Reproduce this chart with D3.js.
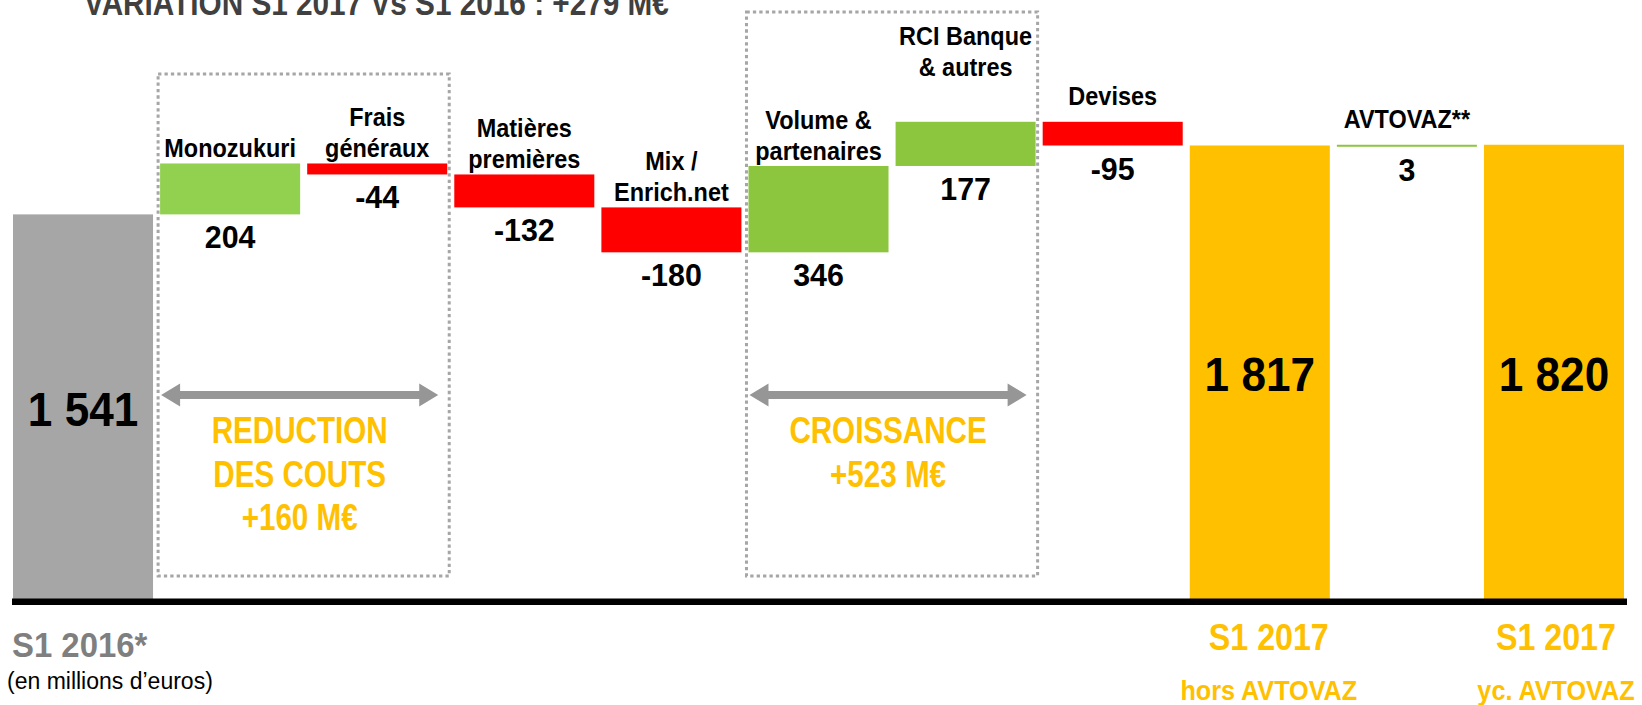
<!DOCTYPE html>
<html lang="fr">
<head>
<meta charset="UTF-8">
<title>Variation S1 2017 vs S1 2016</title>
<script src="https://d3js.org/d3.v7.min.js"></script>
<style>
    body { margin: 0; padding: 0; background: #fff; }
    svg { display: block; font-family: "Liberation Sans", Arial, sans-serif; }
</style>
</head>
<body>
<svg id="chart" width="1642" height="705"></svg>
<script>
// Données (en millions d'euros)
const categories = ["S1 2016*", "Monozukuri", "Frais généraux", "Matières premières", "Mix / Enrich.net",
    "Volume & partenaires", "RCI Banque & autres", "Devises", "S1 2017 hors AVTOVAZ", "AVTOVAZ**", "S1 2017 yc. AVTOVAZ"];
const values = [1541, 204, -44, -132, -180, 346, 177, -95, 1817, 3, 1820];
const isTotal = [true, false, false, false, false, false, false, false, true, false, true];
const labelLines = [[], ["Monozukuri"], ["Frais", "généraux"], ["Matières", "premières"], ["Mix /", "Enrich.net"],
    ["Volume &", "partenaires"], ["RCI Banque", "& autres"], ["Devises"], [], ["AVTOVAZ**"], []];
const groupNames = [["REDUCTION", "DES COUTS"], ["CROISSANCE"]];
const groupMembers = [["Monozukuri", "Frais généraux"], ["Volume & partenaires", "RCI Banque & autres"]];
const bottomTitles = ["S1 2016*", "S1 2017", "S1 2017"];
const bottomSubs = ["(en millions d’euros)", "hors AVTOVAZ", "yc. AVTOVAZ"];
const bottomCats = ["S1 2016*", "S1 2017 hors AVTOVAZ", "S1 2017 yc. AVTOVAZ"];

const svg = d3.select("#chart");
const fmt = d3.formatLocale({decimal: ",", thousands: " ", grouping: [3], currency: ["", " €"], minus: "-"}).format(",d");

const x = d3.scaleBand().domain(categories).range([13, 1624]).paddingInner(0.048).paddingOuter(0);
const y = d3.scaleLinear().domain([0, 2400]).range([599, 0]);
const bw = x.bandwidth();

// cumul pour la cascade
let run = 0;
const bars = categories.map((c, i) => {
    let y0, y1;
    if (isTotal[i]) { y0 = 0; y1 = values[i]; run = values[i]; }
    else { y0 = run; run += values[i]; y1 = run; }
    return {cat: c, i, v: values[i], y0, y1, total: isTotal[i]};
});

function addText(sel, px, py, str, o) {
    return sel.append("text")
        .attr("transform", `translate(${px},${py}) scale(${o.sx || 1},1)`)
        .attr("text-anchor", o.anchor || "middle")
        .attr("font-size", o.size)
        .attr("font-weight", o.weight || "bold")
        .attr("fill", o.color || "#000")
        .text(str);
}

// titre (coupé en haut comme sur l'original)
addText(svg, 84, 15, `VARIATION S1 2017 Vs S1 2016 : +${values[10] - values[0]} M€`,
    {size: 35, sx: 0.85, anchor: "start", color: "#404040"});

// cadres pointillés + flèches
groupMembers.forEach((m, g) => {
    const x0 = x(m[0]) - 2, x1 = x(m[m.length - 1]) + bw + 2;
    const top = g === 0 ? 74 : 12;
    svg.append("rect")
        .attr("x", x0).attr("y", top).attr("width", x1 - x0).attr("height", 576 - top)
        .attr("fill", "none").attr("stroke", "#a6a6a6").attr("stroke-width", 3)
        .attr("stroke-dasharray", "3.3,3.1");

    const a0 = x0 + 3, a1 = x1 - 11, ay = 395, hl = 19, hh = 11.5, st = 4;
    svg.append("path")
        .attr("d", `M${a0},${ay} L${a0 + hl},${ay - hh} L${a0 + hl},${ay - st} L${a1 - hl},${ay - st} L${a1 - hl},${ay - hh}
                    L${a1},${ay} L${a1 - hl},${ay + hh} L${a1 - hl},${ay + st} L${a0 + hl},${ay + st} L${a0 + hl},${ay + hh} Z`)
        .attr("fill", "#969696");

    const sum = d3.sum(bars.filter(b => m.includes(b.cat)), b => b.v);
    const lines = groupNames[g].concat([`+${sum} M€`]);
    lines.forEach((t, k) => addText(svg, (a0 + a1) / 2, 443 + k * 43.5, t, {size: 37, sx: 0.8, color: "#ffc000"}));
});

// barres
svg.selectAll(".bar")
    .data(bars)
    .enter()
    .append("rect")
    .attr("class", "bar")
    .attr("x", d => x(d.cat))
    .attr("y", d => y(Math.max(d.y0, d.y1)))
    .attr("width", bw)
    .attr("height", d => Math.max(2, Math.abs(y(d.y0) - y(d.y1))))
    .attr("fill", d => {
        if (d.total) return d.i === 0 ? "#a6a6a6" : "#ffc000";
        if (d.v < 0) return "#ff0000";
        return groupMembers[0].includes(d.cat) ? "#92d050" : "#8cc63f";
    });

// ligne de base
svg.append("rect").attr("x", 12).attr("y", 598.5).attr("width", 1615).attr("height", 6.5).attr("fill", "#000");

// étiquettes
const lift = {"RCI Banque & autres": 46, "Devises": 17, "AVTOVAZ**": 17};
bars.forEach(d => {
    const cx = x(d.cat) + bw / 2;
    if (d.total) {
        const mid = (y(0) + y(d.y1)) / 2;
        addText(svg, cx, mid + 19, fmt(d.v), {size: 49, sx: 0.9});
        return;
    }
    const topY = y(Math.max(d.y0, d.y1));
    const h = Math.max(2, Math.abs(y(d.y0) - y(d.y1)));
    addText(svg, cx, topY + h + 34, fmt(d.v), {size: 32, sx: 0.95});
    const ls = labelLines[d.i];
    const base = topY - (lift[d.cat] || 6);
    ls.forEach((t, k) => addText(svg, cx, base - (ls.length - 1 - k) * 31, t, {size: 25.5, sx: 0.92}));
});

// légendes du bas
bottomCats.forEach((c, k) => {
    if (k === 0) {
        addText(svg, 12, 657, bottomTitles[k], {size: 35, sx: 0.94, anchor: "start", color: "#7f7f7f"});
        addText(svg, 7, 689, bottomSubs[k], {size: 23, anchor: "start", weight: "normal"});
    } else {
        const cx = x(c) + bw / 2 + (k === 1 ? 9 : 2);
        addText(svg, cx, 650, bottomTitles[k], {size: 37, sx: 0.87, color: "#ffc000"});
        addText(svg, cx, 700, bottomSubs[k], {size: 28, sx: 0.9, color: "#ffc000"});
    }
});
</script>
</body>
</html>
